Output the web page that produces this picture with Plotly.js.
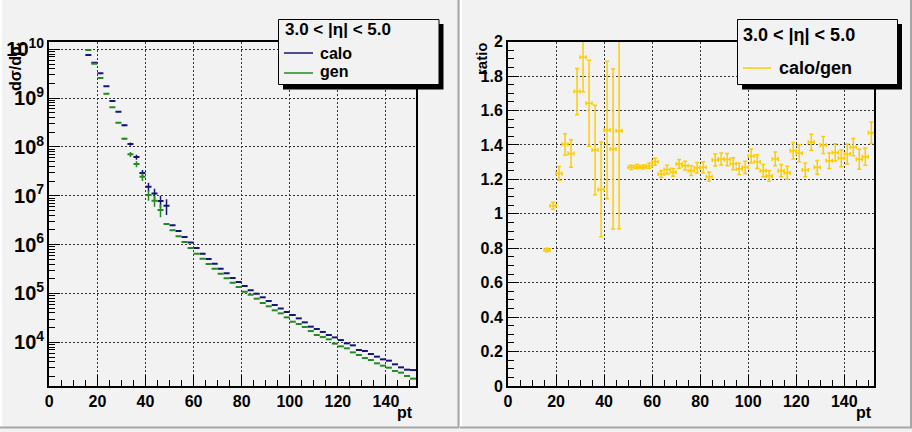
<!DOCTYPE html>
<html>
<head>
<meta charset="utf-8">
<script src="https://cdn.plot.ly/plotly-3.0.1.min.js"></script>
<style>
  html, body { margin: 0; padding: 0; background: #f2f2f2; }
  #chart { width: 912px; height: 432px; }
</style>
</head>
<body>
<div id="chart"></div>
<script>
// ---- data (bin centres in pt, bin width 2.5) ----
const ptCenters = [16.25,18.75,21.25,23.75,26.25,28.75,31.25,33.75,36.25,38.75,41.25,43.75,46.25,48.75,51.25,53.75,56.25,58.75,61.25,63.75,66.25,68.75,71.25,73.75,76.25,78.75,81.25,83.75,86.25,88.75,91.25,93.75,96.25,98.75,101.25,103.75,106.25,108.75,111.25,113.75,116.25,118.75,121.25,123.75,126.25,128.75,131.25,133.75,136.25,138.75,141.25,143.75,146.25,148.75,151.25];
const binHalfWidth = 1.25;

const calo = [7.64e9,5.32e9,3.22e9,1.75e9,8.73e8,5.27e8,2.78e8,1.15e8,6.22e7,2.93e7,1.53e7,1.12e7,7.82e6,6.27e6,2.49e6,1.90e6,1.43e6,1.10e6,8.51e5,6.52e5,5.07e5,4.06e5,3.21e5,2.59e5,2.07e5,1.71e5,1.42e5,1.16e5,9.89e4,8.34e4,7.0e4,5.81e4,4.92e4,4.17e4,3.62e4,3.09e4,2.56e4,2.09e4,1.87e4,1.63e4,1.41e4,1.26e4,1.11e4,9.53e3,8.67e3,6.95e3,6.64e3,5.75e3,5.08e3,4.48e3,4.21e3,3.54e3,3.07e3,2.75e3,2.70e3];
const caloErrRel = [0.01,0.01,0.01,0.01,0.01,0.02,0.04,0.08,0.115,0.156,0.205,0.25,0.285,0.355,0,0,0,0,0,0,0,0,0,0,0,0,0,0,0,0,0,0,0,0,0,0,0,0,0,0,0,0,0,0,0,0,0,0,0,0,0,0,0,0,0];

const gen = [9.69e9,5.08e9,2.58e9,1.23e9,6.49e8,3.14e8,1.48e8,7.08e7,4.48e7,2.46e7,1.04e7,7.94e6,5.12e6,2.64e6,1.96e6,1.48e6,1.13e6,8.51e5,6.52e5,5.15e5,4.01e5,3.21e5,2.54e5,2.05e5,1.66e5,1.36e5,1.09e5,9.42e4,7.82e4,6.38e4,5.46e4,4.52e4,3.92e4,3.24e4,2.64e4,2.37e4,2.06e4,1.70e4,1.41e4,1.28e4,1.15e4,9.38e3,8.26e3,7.52e3,6.22e3,5.50e3,4.76e3,4.34e3,3.71e3,3.32e3,3.02e3,2.58e3,2.39e3,2.04e3,1.80e3];
const genErrRel = [0.01,0.01,0.01,0.01,0.01,0.03,0.05,0.12,0.14,0.18,0.24,0.25,0.29,0,0,0,0,0,0,0,0,0,0,0,0,0,0,0,0,0,0,0,0,0,0,0,0,0,0,0,0,0,0,0,0,0,0,0,0,0,0,0,0,0,0];

const ratio = [0.790,1.047,1.235,1.404,1.351,1.710,1.909,1.642,1.371,1.142,1.487,1.377,1.483,null,1.270,1.274,1.272,1.280,1.303,1.231,1.257,1.241,1.290,1.280,1.251,1.268,1.270,1.216,1.313,1.319,1.315,1.291,1.261,1.270,1.336,1.303,1.251,1.220,1.319,1.251,1.239,1.367,1.352,1.255,1.416,1.270,1.400,1.309,1.357,1.323,1.348,1.387,1.317,1.332,1.471];
const ratioErr = [0.01,0.02,0.04,0.062,0.08,0.135,0.2,0.25,0.26,0.275,0.40,0.465,0.57,0,0.012,0.012,0.012,0.015,0.02,0.02,0.025,0.022,0.025,0.025,0.028,0.03,0.032,0.027,0.035,0.035,0.035,0.035,0.033,0.035,0.041,0.04,0.035,0.03,0.04,0.035,0.038,0.048,0.05,0.04,0.046,0.04,0.05,0.045,0.05,0.05,0.058,0.05,0.058,0.05,0.062];

const xTickVals = [0,20,40,60,80,100,120,140];
const legendHeader = '3.0 < |η| < 5.0';
const leftLegendLabels = ['calo','gen'];
const rightLegendLabels = ['calo/gen'];

// ---- style ----
const W = 912, H = 432;
const BG = '#f2f2f2';
const BLUE = '#14147a', GREEN = '#238b23', GOLD = '#ffcc00';
const GRID = '#333333';
const FONT = 'Liberation Sans, Arial, sans-serif';
const X = p => p / W;
const Y = p => 1 - p / H;

const caloTrace = {
  type: 'scatter', mode: 'markers', x: ptCenters, y: calo, xaxis: 'x', yaxis: 'y',
  marker: {size: 1, color: 'rgba(0,0,0,0)'},
  error_x: {type: 'constant', value: binHalfWidth, width: 0, thickness: 2, color: BLUE},
  error_y: {type: 'data', array: calo.map((v, i) => v * caloErrRel[i]), width: 0, thickness: 1.5, color: BLUE},
  showlegend: false, hoverinfo: 'x+y'
};
const genTrace = {
  type: 'scatter', mode: 'markers', x: ptCenters, y: gen, xaxis: 'x', yaxis: 'y',
  marker: {size: 1, color: 'rgba(0,0,0,0)'},
  error_x: {type: 'constant', value: binHalfWidth, width: 0, thickness: 2, color: GREEN},
  error_y: {type: 'data', array: gen.map((v, i) => v * genErrRel[i]), width: 0, thickness: 1.5, color: GREEN},
  showlegend: false, hoverinfo: 'x+y'
};
const ratioTrace = {
  type: 'scatter', mode: 'markers', x: ptCenters, y: ratio, xaxis: 'x2', yaxis: 'y2',
  marker: {size: 1, color: 'rgba(0,0,0,0)'},
  error_x: {type: 'constant', value: binHalfWidth, width: 2, thickness: 1.5, color: GOLD},
  error_y: {type: 'data', array: ratioErr, width: 2, thickness: 1.5, color: GOLD},
  showlegend: false, hoverinfo: 'x+y'
};

const tickFont = {family: FONT, size: 16, color: '#000', weight: 'bold'};
const commonX = {
  range: [0, 152.5], tickvals: xTickVals, ticks: 'inside', ticklen: 11, tickwidth: 1, tickcolor: '#000',
  minor: {dtick: 5, ticks: 'inside', ticklen: 6, tickwidth: 1, tickcolor: '#000', showgrid: false},
  showgrid: true, gridcolor: GRID, griddash: '2px,2px', gridwidth: 1,
  showline: true, linecolor: '#000', linewidth: 2, mirror: true, zeroline: false,
  tickfont: tickFont
};

const yDomain = [Y(386), Y(41.7)];

const layout = {
  width: W, height: H,
  margin: {l: 0, r: 0, t: 0, b: 0},
  paper_bgcolor: BG, plot_bgcolor: BG,
  showlegend: false,
  xaxis: Object.assign({}, commonX, {domain: [X(49.3), X(416)], anchor: 'y'}),
  yaxis: {
    type: 'log', domain: yDomain, anchor: 'x', range: [3.105, 10.156],
    dtick: 1, exponentformat: 'power', ticks: 'inside', ticklen: 11, tickwidth: 1, tickcolor: '#000',
    minor: {dtick: 'D1', ticks: 'inside', ticklen: 6, tickwidth: 1, tickcolor: '#000', showgrid: false},
    showgrid: true, gridcolor: GRID, griddash: '2px,2px', gridwidth: 1,
    showline: true, linecolor: '#000', linewidth: 2, mirror: true, zeroline: false,
    tickfont: tickFont
  },
  xaxis2: Object.assign({}, commonX, {domain: [X(508), X(874.3)], anchor: 'y2'}),
  yaxis2: {
    domain: yDomain, anchor: 'x2', range: [0, 2], dtick: 0.2,
    ticks: 'inside', ticklen: 11, tickwidth: 1, tickcolor: '#000',
    minor: {dtick: 0.05, ticks: 'inside', ticklen: 6, tickwidth: 1, tickcolor: '#000', showgrid: false},
    showgrid: true, gridcolor: GRID, griddash: '2px,2px', gridwidth: 1,
    showline: true, linecolor: '#000', linewidth: 2, mirror: true, zeroline: false,
    tickfont: tickFont
  },
  shapes: [
    // pad bevels
    {type: 'line', xref: 'paper', yref: 'paper', x0: X(1), x1: X(1), y0: Y(0), y1: Y(428), line: {color: '#ffffff', width: 2}},
    {type: 'line', xref: 'paper', yref: 'paper', x0: X(0), x1: X(459), y0: Y(427.5), y1: Y(427.5), line: {color: '#a6a6a6', width: 2}},
    {type: 'line', xref: 'paper', yref: 'paper', x0: X(458.5), x1: X(458.5), y0: Y(0), y1: Y(428), line: {color: '#a6a6a6', width: 2}},
    {type: 'line', xref: 'paper', yref: 'paper', x0: X(461), x1: X(461), y0: Y(0), y1: Y(428), line: {color: '#ffffff', width: 2}},
    {type: 'line', xref: 'paper', yref: 'paper', x0: X(460), x1: X(912), y0: Y(427.5), y1: Y(427.5), line: {color: '#a6a6a6', width: 2}},
    {type: 'line', xref: 'paper', yref: 'paper', x0: X(911), x1: X(911), y0: Y(0), y1: Y(428), line: {color: '#a6a6a6', width: 2}},
    // left legend: shadow + box
    {type: 'rect', xref: 'paper', yref: 'paper', x0: X(283), x1: X(443.5), y0: Y(24), y1: Y(89.5), fillcolor: '#000', line: {width: 0}},
    {type: 'rect', xref: 'paper', yref: 'paper', x0: X(278.5), x1: X(439), y0: Y(19.5), y1: Y(84.5), fillcolor: BG, line: {color: '#000', width: 1}},
    {type: 'line', xref: 'paper', yref: 'paper', x0: X(284), x1: X(313), y0: Y(53), y1: Y(53), line: {color: BLUE, width: 1.5}},
    {type: 'line', xref: 'paper', yref: 'paper', x0: X(284), x1: X(313), y0: Y(73), y1: Y(73), line: {color: GREEN, width: 1.5}},
    // right legend: shadow + box
    {type: 'rect', xref: 'paper', yref: 'paper', x0: X(742), x1: X(902), y0: Y(24), y1: Y(89.5), fillcolor: '#000', line: {width: 0}},
    {type: 'rect', xref: 'paper', yref: 'paper', x0: X(737.5), x1: X(897.5), y0: Y(19.5), y1: Y(84.5), fillcolor: BG, line: {color: '#000', width: 1}},
    {type: 'line', xref: 'paper', yref: 'paper', x0: X(743), x1: X(771), y0: Y(68), y1: Y(68), line: {color: GOLD, width: 1.5}}
  ],
  annotations: [
    {xref: 'paper', yref: 'paper', x: X(283), y: Y(29), xanchor: 'left', yanchor: 'middle', showarrow: false,
     text: legendHeader, font: {family: FONT, size: 17, color: '#000', weight: 'bold'}},
    {xref: 'paper', yref: 'paper', x: X(318), y: Y(53), xanchor: 'left', yanchor: 'middle', showarrow: false,
     text: leftLegendLabels[0], font: {family: FONT, size: 16, color: '#000', weight: 'bold'}},
    {xref: 'paper', yref: 'paper', x: X(318), y: Y(71), xanchor: 'left', yanchor: 'middle', showarrow: false,
     text: leftLegendLabels[1], font: {family: FONT, size: 16, color: '#000', weight: 'bold'}},
    {xref: 'paper', yref: 'paper', x: X(741), y: Y(35), xanchor: 'left', yanchor: 'middle', showarrow: false,
     text: legendHeader, font: {family: FONT, size: 18, color: '#000', weight: 'bold'}},
    {xref: 'paper', yref: 'paper', x: X(777), y: Y(68), xanchor: 'left', yanchor: 'middle', showarrow: false,
     text: rightLegendLabels[0], font: {family: FONT, size: 18, color: '#000', weight: 'bold'}},
    // axis titles
    {xref: 'paper', yref: 'paper', x: X(415), y: Y(412), xanchor: 'right', yanchor: 'middle', showarrow: false,
     text: 'pt', font: {family: FONT, size: 16, color: '#000', weight: 'bold'}},
    {xref: 'paper', yref: 'paper', x: X(874), y: Y(412), xanchor: 'right', yanchor: 'middle', showarrow: false,
     text: 'pt', font: {family: FONT, size: 16, color: '#000', weight: 'bold'}},
    {xref: 'paper', yref: 'paper', x: X(17), y: Y(67), xanchor: 'center', yanchor: 'middle', showarrow: false, textangle: -90,
     text: 'dσ/dp<sub>t</sub>', font: {family: FONT, size: 16, color: '#000', weight: 'bold'}},
    {xref: 'paper', yref: 'paper', x: X(481), y: Y(59), xanchor: 'center', yanchor: 'middle', showarrow: false, textangle: -90,
     text: 'ratio', font: {family: FONT, size: 15, color: '#000', weight: 'bold'}}
  ]
};

Plotly.newPlot('chart', [caloTrace, genTrace, ratioTrace], layout, {staticPlot: true, displayModeBar: false});
</script>
</body>
</html>
